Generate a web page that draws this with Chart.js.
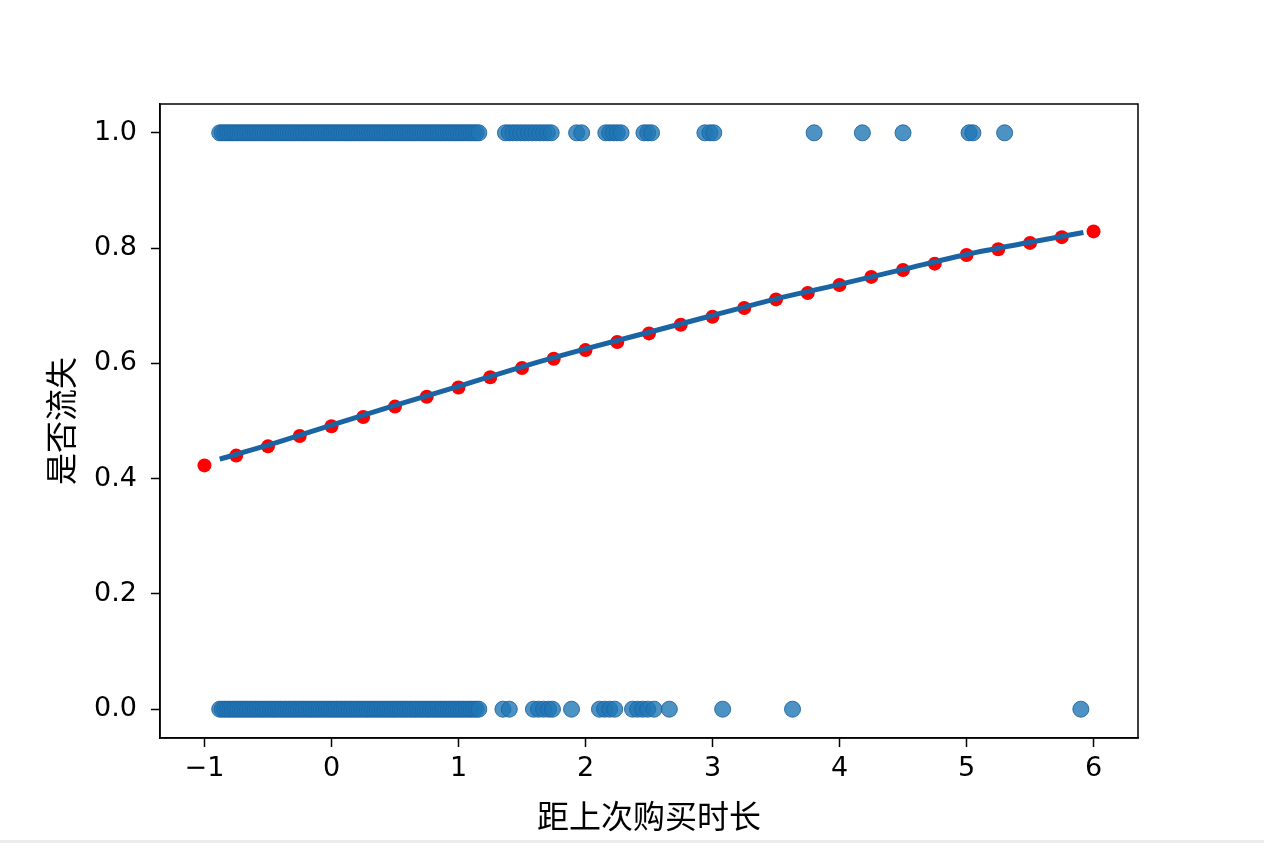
<!DOCTYPE html>
<html>
<head>
<meta charset="utf-8">
<script src="https://cdn.jsdelivr.net/npm/chart.js@4/dist/chart.umd.min.js"></script>
<style>
  html, body { margin: 0; padding: 0; background: #fff; }
  #wrap { position: relative; width: 1264px; height: 843px; }
  #strip { position: absolute; left: 0; top: 840px; width: 1264px; height: 3px; background: #ececec; }
</style>
</head>
<body>
<div id="wrap">
  <canvas id="c" width="1264" height="843"></canvas>
  <div id="strip"></div>
</div>
<script>
// ---- data ----
const xTitle = '距上次购买时长';
const yTitle = '是否流失';
const xTicks = [-1, 0, 1, 2, 3, 4, 5, 6];
const xTickLabels = ['\u22121', '0', '1', '2', '3', '4', '5', '6'];
const yTicks = [0, 0.2, 0.4, 0.6, 0.8, 1.0];
const yTickLabels = ['0.0', '0.2', '0.4', '0.6', '0.8', '1.0'];

// observed customers, churned (y = 1)
const churnedX = [
  -0.88, -0.86, -0.84, -0.82, -0.80, -0.78, -0.76, -0.74, -0.72, -0.70,
  -0.68, -0.66, -0.64, -0.62, -0.60, -0.58, -0.56, -0.54, -0.52, -0.50,
  -0.48, -0.46, -0.44, -0.42, -0.40, -0.38, -0.36, -0.34, -0.32, -0.30,
  -0.28, -0.26, -0.24, -0.22, -0.20, -0.18, -0.16, -0.14, -0.12, -0.10,
  -0.08, -0.06, -0.04, -0.02, 0.00, 0.02, 0.04, 0.06, 0.08, 0.10,
  0.12, 0.14, 0.16, 0.18, 0.20, 0.22, 0.24, 0.26, 0.28, 0.30,
  0.32, 0.34, 0.36, 0.38, 0.40, 0.42, 0.44, 0.46, 0.48, 0.50,
  0.52, 0.54, 0.56, 0.58, 0.60, 0.62, 0.64, 0.66, 0.68, 0.70,
  0.72, 0.74, 0.76, 0.78, 0.80, 0.82, 0.84, 0.86, 0.88, 0.90,
  0.92, 0.94, 0.96, 0.98, 1.00, 1.02, 1.04, 1.06, 1.08, 1.10,
  1.12, 1.14, 1.16,
  1.37, 1.40, 1.43, 1.46, 1.49, 1.52, 1.55, 1.58, 1.61, 1.64, 1.67, 1.70, 1.73,
  1.93, 1.97, 2.16, 2.19, 2.22, 2.25, 2.28, 2.46, 2.49, 2.52, 2.94, 2.98, 3.01,
  3.80, 4.18, 4.50, 5.02, 5.05, 5.30
];
// observed customers, retained (y = 0)
const retainedX = [
  -0.88, -0.86, -0.84, -0.82, -0.80, -0.78, -0.76, -0.74, -0.72, -0.70,
  -0.68, -0.66, -0.64, -0.62, -0.60, -0.58, -0.56, -0.54, -0.52, -0.50,
  -0.48, -0.46, -0.44, -0.42, -0.40, -0.38, -0.36, -0.34, -0.32, -0.30,
  -0.28, -0.26, -0.24, -0.22, -0.20, -0.18, -0.16, -0.14, -0.12, -0.10,
  -0.08, -0.06, -0.04, -0.02, 0.00, 0.02, 0.04, 0.06, 0.08, 0.10,
  0.12, 0.14, 0.16, 0.18, 0.20, 0.22, 0.24, 0.26, 0.28, 0.30,
  0.32, 0.34, 0.36, 0.38, 0.40, 0.42, 0.44, 0.46, 0.48, 0.50,
  0.52, 0.54, 0.56, 0.58, 0.60, 0.62, 0.64, 0.66, 0.68, 0.70,
  0.72, 0.74, 0.76, 0.78, 0.80, 0.82, 0.84, 0.86, 0.88, 0.90,
  0.92, 0.94, 0.96, 0.98, 1.00, 1.02, 1.04, 1.06, 1.08, 1.10,
  1.12, 1.14, 1.16,
  1.35, 1.40, 1.59, 1.63, 1.67, 1.71, 1.74, 1.89,
  2.11, 2.15, 2.19, 2.23, 2.37, 2.41, 2.45, 2.49, 2.54, 2.66,
  3.08, 3.63, 5.90
];
// predicted probabilities (red points)
const predX = [-1, -0.75, -0.5, -0.25, 0, 0.25, 0.5, 0.75, 1, 1.25, 1.5, 1.75, 2, 2.25, 2.5,
               2.75, 3, 3.25, 3.5, 3.75, 4, 4.25, 4.5, 4.75, 5, 5.25, 5.5, 5.75, 6];
const predY = [0.423, 0.440, 0.456, 0.474, 0.491, 0.507, 0.525, 0.542, 0.558, 0.576, 0.592, 0.608,
               0.623, 0.637, 0.652, 0.667, 0.681, 0.696, 0.711, 0.722, 0.736, 0.750, 0.762, 0.773,
               0.788, 0.798, 0.809, 0.819, 0.829];
// fitted logistic curve (blue line)
const fitX = [-0.88, -0.5, 0, 0.5, 1, 1.5, 2, 2.5, 3, 3.5, 4, 4.5, 5, 5.5, 5.92];
const fitY = [0.434, 0.458, 0.493, 0.527, 0.560, 0.594, 0.625, 0.654, 0.683, 0.712, 0.737, 0.763, 0.789, 0.810, 0.827];

// ---- chart ----
const blue = 'rgba(31,119,180,0.8)';
const tickFont = { family: '"DejaVu Sans", sans-serif', size: 27 };
const titleFont = { family: '"Noto Sans CJK SC", sans-serif', size: 32 };

const frame = {
  id: 'frame',
  afterDraw(chart) {
    const a = chart.chartArea, ctx = chart.ctx;
    ctx.save();
    ctx.strokeStyle = '#000';
    ctx.lineWidth = 1.5;
    ctx.strokeRect(a.left, a.top, a.right - a.left, a.bottom - a.top);
    ctx.restore();
  }
};

new Chart(document.getElementById('c'), {
  data: {
    datasets: [
      {
        type: 'line', order: 0,
        data: fitX.map((x, i) => ({ x, y: fitY[i] })),
        borderColor: '#1b64a3', borderWidth: 5, pointRadius: 0,
        cubicInterpolationMode: 'monotone', fill: false
      },
      {
        type: 'scatter', order: 1,
        data: predX.map((x, i) => ({ x, y: predY[i] })),
        backgroundColor: '#ff0000', borderColor: '#ff0000', borderWidth: 0, pointRadius: 7
      },
      {
        type: 'scatter', order: 2,
        data: churnedX.map(x => ({ x, y: 1 })).concat(retainedX.map(x => ({ x, y: 0 }))),
        backgroundColor: blue, borderColor: 'rgba(31,100,165,0.9)', borderWidth: 1, pointRadius: 8
      }
    ]
  },
  options: {
    responsive: false,
    animation: false,
    layout: { padding: { left: 38, top: 104, right: 126, bottom: 4 } },
    plugins: { legend: { display: false }, tooltip: { enabled: false } },
    scales: {
      x: {
        type: 'linear', min: -1.35, max: 6.35,
        afterBuildTicks: s => { s.ticks = xTicks.map(v => ({ value: v })); },
        afterFit: s => { s.height = 101; },
        ticks: {
          color: '#000', font: tickFont, padding: 6, maxRotation: 0,
          callback: v => xTickLabels[xTicks.indexOf(v)]
        },
        grid: { drawOnChartArea: false, drawTicks: true, tickLength: 9, tickWidth: 1.5, tickColor: '#000' },
        border: { display: true, color: '#000', width: 1.5 },
        title: { display: true, text: xTitle, color: '#000', font: titleFont, padding: { top: 4, bottom: 4 } }
      },
      y: {
        type: 'linear', min: -0.05, max: 1.05,
        afterBuildTicks: s => { s.ticks = yTicks.map(v => ({ value: v })); },
        afterFit: s => { s.width = 122; },
        ticks: {
          color: '#000', font: tickFont, padding: 14,
          callback: v => yTickLabels[yTicks.findIndex(t => Math.abs(t - v) < 1e-9)]
        },
        grid: { drawOnChartArea: false, drawTicks: true, tickLength: 9, tickWidth: 1.5, tickColor: '#000' },
        border: { display: true, color: '#000', width: 1.5 },
        title: { display: true, text: yTitle, color: '#000', font: titleFont, padding: { top: 4, bottom: 4 } }
      }
    }
  },
  plugins: [frame]
});
</script>
</body>
</html>
